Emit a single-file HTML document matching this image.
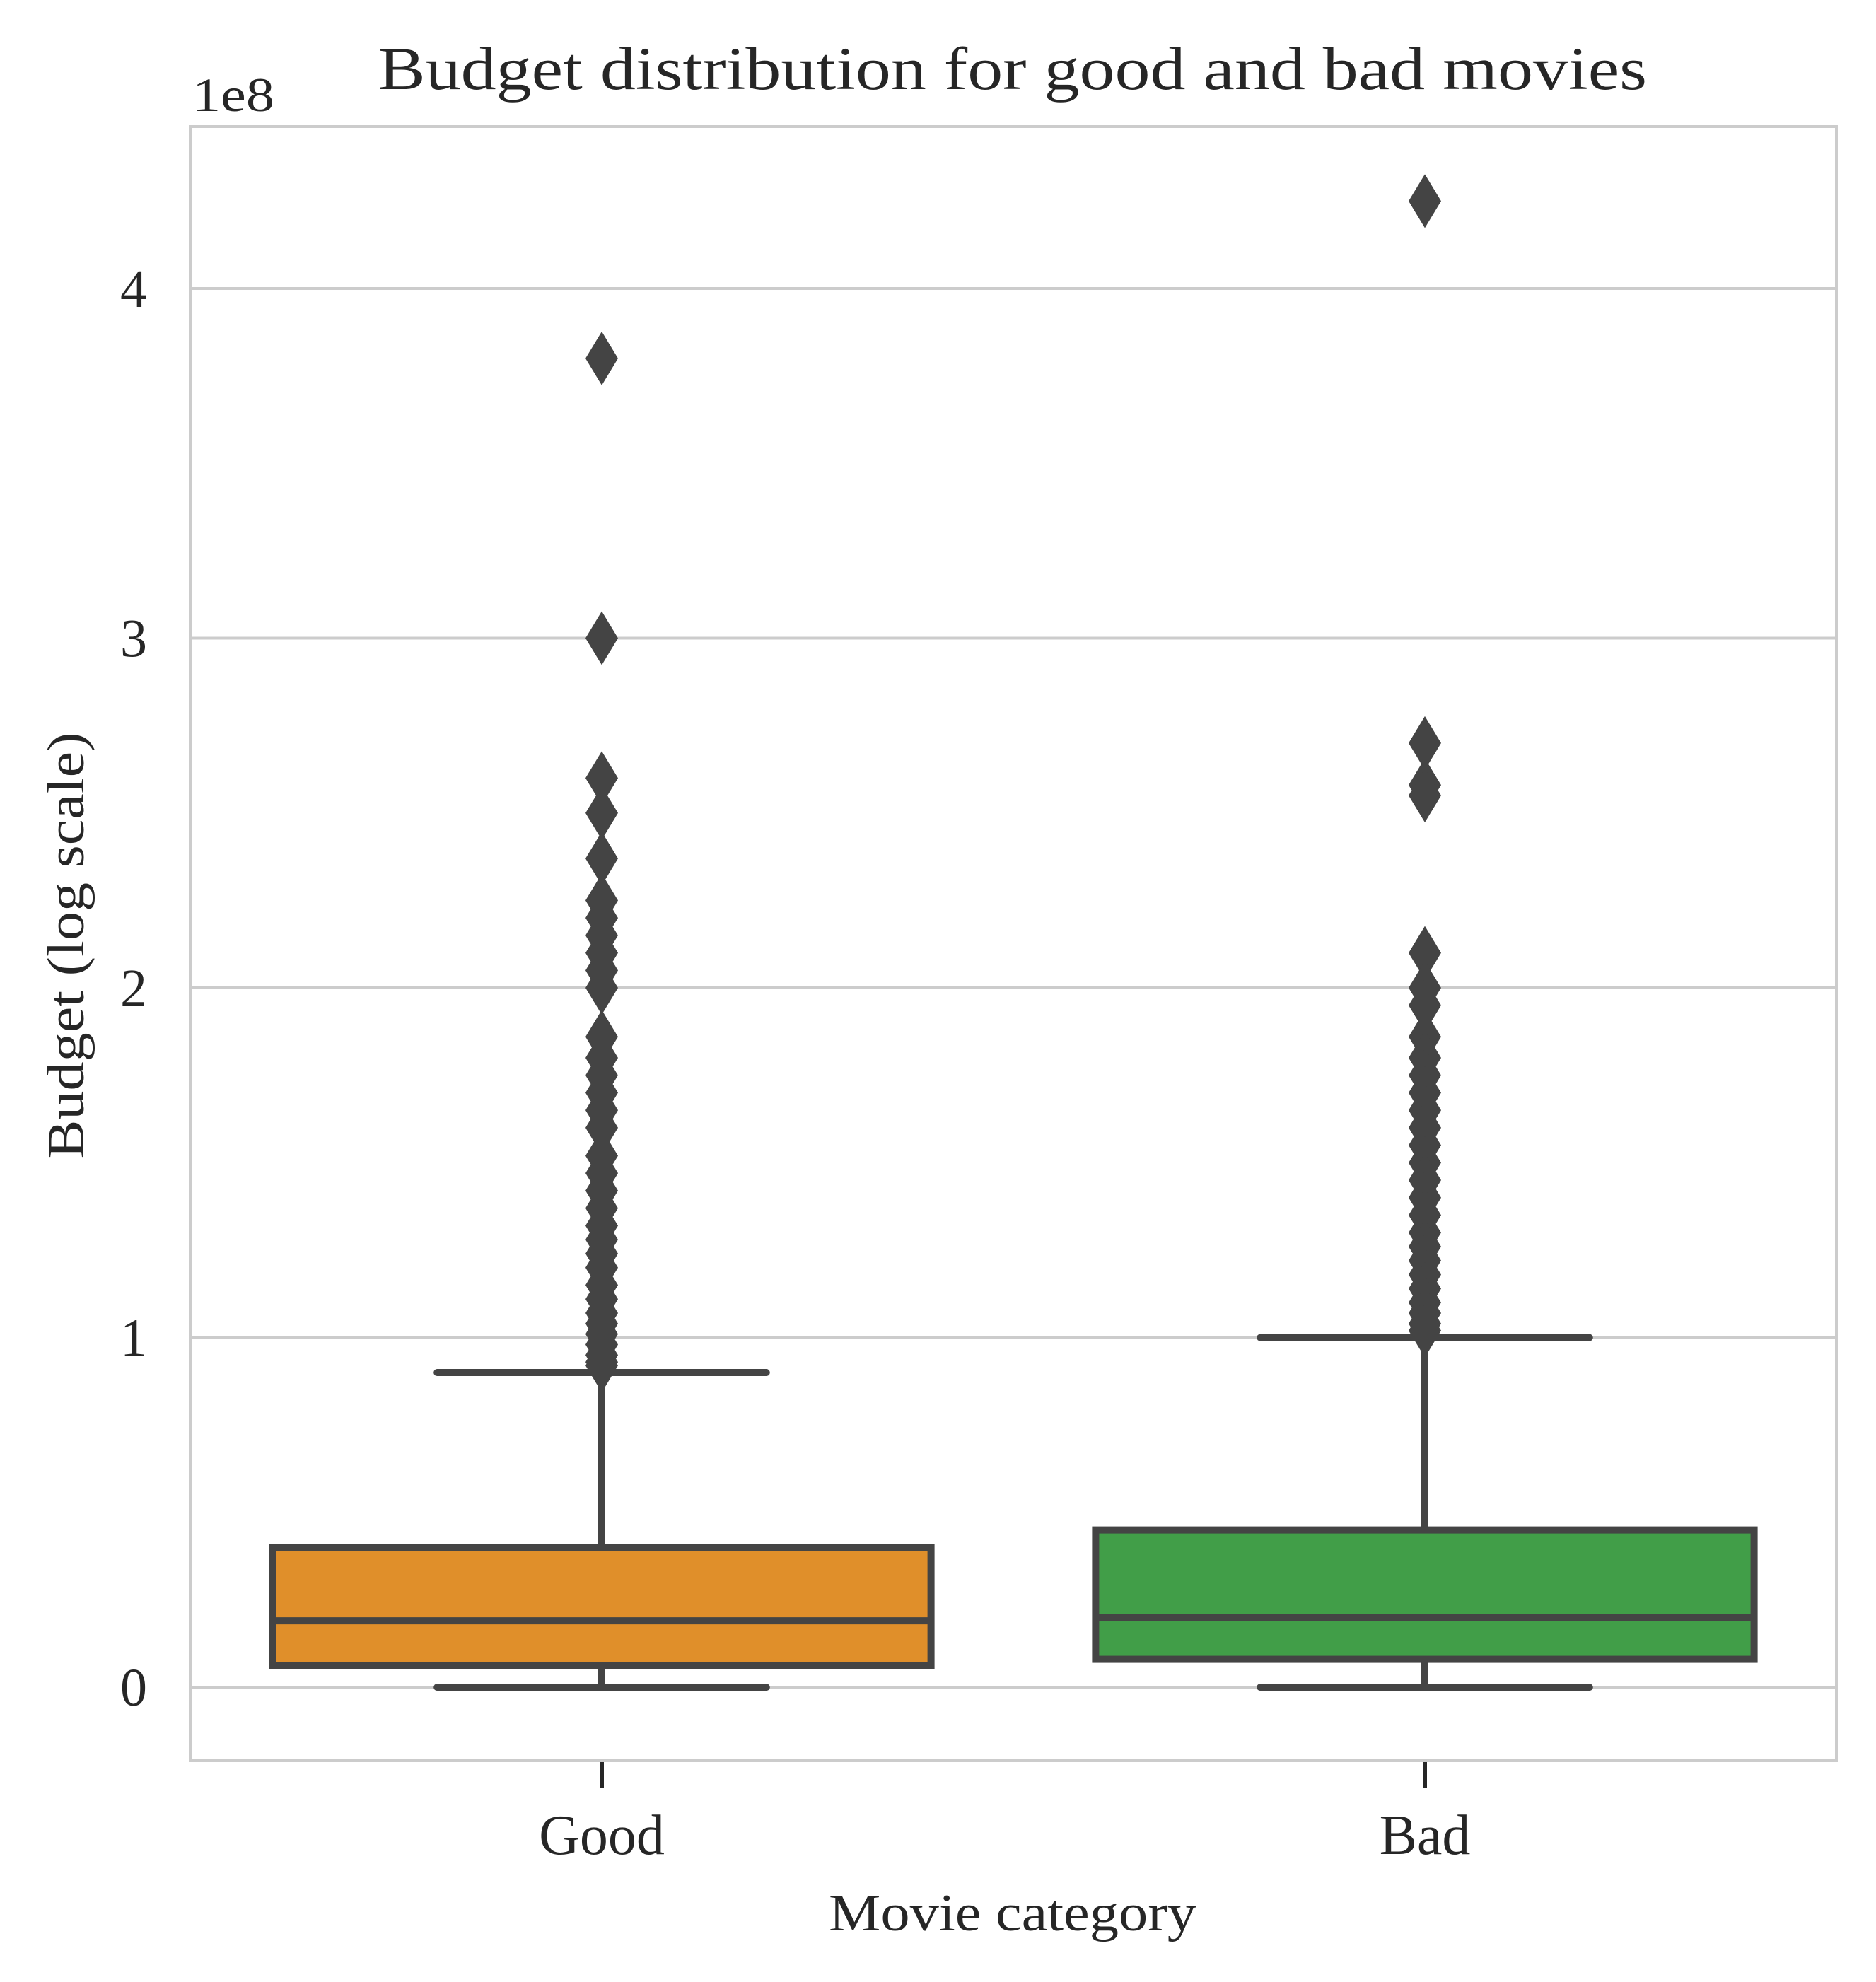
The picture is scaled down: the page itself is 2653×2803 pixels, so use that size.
<!DOCTYPE html>
<html><head><meta charset="utf-8"><style>
html,body{margin:0;padding:0;background:#fff}
svg{display:block}
text{font-family:"Liberation Serif","Times New Roman",serif;fill:#262626}
</style></head><body>
<svg id="chart" width="2653" height="2803" viewBox="0 0 2653 2803" xmlns="http://www.w3.org/2000/svg">
<rect x="0" y="0" width="2653" height="2803" fill="#fff"/>
<g id="grid"></g>
<g id="boxes"></g>
<g id="axes"></g>
<text x="1432" y="126" font-size="86" text-anchor="middle" textLength="1794" lengthAdjust="spacingAndGlyphs">Budget distribution for good and bad movies</text>
<text x="272" y="157" font-size="68" textLength="116" lengthAdjust="spacingAndGlyphs">1e8</text>
<text x="1432" y="2730" font-size="74" text-anchor="middle" textLength="520" lengthAdjust="spacingAndGlyphs">Movie category</text>
<text transform="translate(118,1337) rotate(-90)" font-size="74" text-anchor="middle" textLength="603" lengthAdjust="spacingAndGlyphs">Budget (log scale)</text>
</svg>
<script>
const categories = ["Good", "Bad"];
const colors = ["#e08f2a", "#419e48"];
const q1Values = [0.062, 0.08];
const medianValues = [0.19, 0.20];
const q3Values = [0.40, 0.45];
const whiskerLow = [0.0, 0.0];
const whiskerHigh = [0.90, 1.00];
const goodOutliers = [3.8, 3.0, 2.6, 2.5, 2.37, 2.25, 2.2, 2.15, 2.1, 2.05, 2.0, 1.86, 1.8, 1.75, 1.7, 1.65, 1.6, 1.52, 1.47, 1.42, 1.37, 1.32, 1.28, 1.24, 1.2, 1.15, 1.11, 1.07, 1.04, 1.01, 0.98, 0.95, 0.93, 0.92];
const badOutliers = [4.25, 2.7, 2.58, 2.55, 2.1, 2.0, 1.95, 1.86, 1.8, 1.75, 1.7, 1.65, 1.6, 1.55, 1.5, 1.45, 1.4, 1.35, 1.3, 1.26, 1.22, 1.18, 1.14, 1.1, 1.07, 1.04, 1.02];
const yTicks = [0, 1, 2, 3, 4];
const yTickLabels = ["0", "1", "2", "3", "4"];

const NS = "http://www.w3.org/2000/svg";
const L = 269, R = 2597, T = 179, B = 2490;
const yMin = -0.21, yMax = 4.463;
function ys(v){ return B - (v - yMin) / (yMax - yMin) * (B - T); }
const catW = (R - L) / categories.length;
function xs(i){ return L + catW * (i + 0.5); }
function mk(tag, attrs, parent){ const e = document.createElementNS(NS, tag); for (const k in attrs) e.setAttribute(k, attrs[k]); parent.appendChild(e); return e; }

const grid = document.getElementById('grid');
const boxes = document.getElementById('boxes');
const axes = document.getElementById('axes');
const DARK = "#444444";
const SW = 10;

yTicks.forEach((t, i) => {
  const y = ys(t);
  const g = mk('line', {x1: L, x2: R, y1: y, y2: y, stroke: '#cccccc', 'stroke-width': 4}, grid);
  
  
  const tx = mk('text', {x: 208, y: y + 26, 'font-size': 76, 'text-anchor': 'end'}, axes);
  tx.textContent = yTickLabels[i];
  
  
});

const outlierSets = [goodOutliers, badOutliers];
categories.forEach((c, i) => {
  const cx = xs(i);
  const bw = catW * 0.8, cw = catW * 0.4;
  const grp = mk('g', {}, boxes);
  
  
  const w1 = mk('line', {x1: cx, x2: cx, y1: ys(q3Values[i]), y2: ys(whiskerHigh[i]), stroke: DARK, 'stroke-width': SW}, grp);
  
  
  const w2 = mk('line', {x1: cx, x2: cx, y1: ys(q1Values[i]), y2: ys(whiskerLow[i]), stroke: DARK, 'stroke-width': SW}, grp);
  
  
  const c1 = mk('line', {x1: cx - cw/2, x2: cx + cw/2, y1: ys(whiskerHigh[i]), y2: ys(whiskerHigh[i]), stroke: DARK, 'stroke-width': SW, 'stroke-linecap': 'round'}, grp);
  
  
  const c2 = mk('line', {x1: cx - cw/2, x2: cx + cw/2, y1: ys(whiskerLow[i]), y2: ys(whiskerLow[i]), stroke: DARK, 'stroke-width': SW, 'stroke-linecap': 'round'}, grp);
  
  
  const rect = mk('rect', {x: cx - bw/2, y: ys(q3Values[i]), width: bw, height: ys(q1Values[i]) - ys(q3Values[i]), fill: colors[i], stroke: DARK, 'stroke-width': SW}, grp);
  
  
  const med = mk('line', {x1: cx - bw/2, x2: cx + bw/2, y1: ys(medianValues[i]), y2: ys(medianValues[i]), stroke: DARK, 'stroke-width': SW}, grp);
  
  
  outlierSets[i].forEach(v => {
    const y = ys(v), hw = 23, hh = 38;
    const d = mk('polygon', {points: `${cx},${y-hh} ${cx+hw},${y} ${cx},${y+hh} ${cx-hw},${y}`, fill: DARK}, grp);
    
    
  });
  const tk = mk('line', {x1: cx, x2: cx, y1: B, y2: B + 38, stroke: '#262626', 'stroke-width': 6}, axes);
  
  
  const lb = mk('text', {x: cx, y: 2622, 'font-size': 80, 'text-anchor': 'middle'}, axes);
  lb.textContent = c;
  
  
});

const frame = mk('rect', {x: L, y: T, width: R - L, height: B - T, fill: 'none', stroke: '#cccccc', 'stroke-width': 4}, axes);


</script>
</body></html>
